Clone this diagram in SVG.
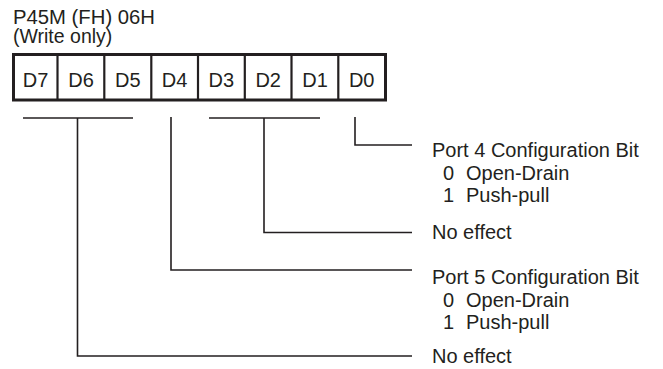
<svg xmlns="http://www.w3.org/2000/svg" width="663" height="369" viewBox="0 0 663 369">
<style>
text{font-family:"Liberation Sans",Arial,sans-serif;font-size:20px;fill:#231f20}
.t{font-size:19.5px}
.c{text-anchor:middle}
.box{fill:#fff;stroke:#231f20;stroke-width:3}
.div{stroke:#231f20;stroke-width:2.2}
.ln{fill:none;stroke:#231f20;stroke-width:1.6}
</style>
<rect width="663" height="369" fill="#fff"/>
<g id="title">
<text class="t" x="13" y="23.5" textLength="142" lengthAdjust="spacingAndGlyphs">P45M (FH) 06H</text>
<text class="t" x="13" y="43">(Write only)</text>
</g>
<g id="register">
<rect class="box" x="13.5" y="54.5" width="372" height="45.5"/>
<line class="div" x1="57.5" y1="54.5" x2="57.5" y2="100"/>
<line class="div" x1="104.3" y1="54.5" x2="104.3" y2="100"/>
<line class="div" x1="151.3" y1="54.5" x2="151.3" y2="100"/>
<line class="div" x1="198" y1="54.5" x2="198" y2="100"/>
<line class="div" x1="244.8" y1="54.5" x2="244.8" y2="100"/>
<line class="div" x1="291.5" y1="54.5" x2="291.5" y2="100"/>
<line class="div" x1="338.3" y1="54.5" x2="338.3" y2="100"/>
<text class="c" x="35.5" y="86.5">D7</text>
<text class="c" x="81" y="86.5">D6</text>
<text class="c" x="127.8" y="86.5">D5</text>
<text class="c" x="174.6" y="86.5">D4</text>
<text class="c" x="221.4" y="86.5">D3</text>
<text class="c" x="268.2" y="86.5">D2</text>
<text class="c" x="315" y="86.5">D1</text>
<text class="c" x="361.7" y="86.5">D0</text>
</g>
<g id="connectors">
<line class="ln" x1="23" y1="118" x2="133" y2="118"/>
<polyline class="ln" points="77.5,118 77.5,356 412,356"/>
<polyline class="ln" points="171,117 171,270 412,270"/>
<line class="ln" x1="209" y1="118" x2="320" y2="118"/>
<polyline class="ln" points="264,118 264,232.5 412,232.5"/>
<polyline class="ln" points="355,117 355,145 412,145"/>
</g>
<g id="label-d0">
<text x="432" y="157">Port 4 Configuration Bit</text>
<text x="443" y="179.5">0<tspan x="466">Open-Drain</tspan></text>
<text x="443" y="202">1<tspan x="466">Push-pull</tspan></text>
</g>
<g id="label-d3d1">
<text x="432" y="239">No effect</text>
</g>
<g id="label-d4">
<text x="432" y="284">Port 5 Configuration Bit</text>
<text x="443" y="306.5">0<tspan x="466">Open-Drain</tspan></text>
<text x="443" y="329">1<tspan x="466">Push-pull</tspan></text>
</g>
<g id="label-d7d5">
<text x="432" y="363">No effect</text>
</g>
</svg>
